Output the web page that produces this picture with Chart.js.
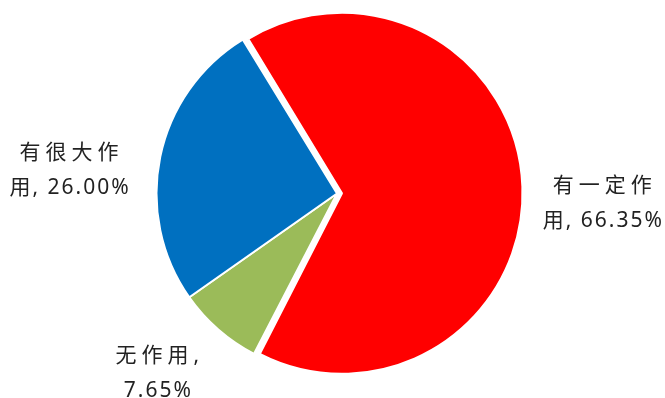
<!DOCTYPE html>
<html>
<head>
<meta charset="utf-8">
<script src="https://cdn.jsdelivr.net/npm/chart.js@4.4.1/dist/chart.umd.min.js"></script>
<style>
  html, body { margin: 0; padding: 0; background: #fff; }
</style>
</head>
<body>
<canvas id="chart" width="665" height="398"></canvas>
<script>
const categories = ['有一定作用', '无作用', '有很大作用'];
const shares = [66.35, 7.65, 26.00];
const colors = ['#FF0000', '#9BBB59', '#0070C0'];

// label text as Excel wraps it: first 4 characters, then the rest
const labelLines = categories.map((name, i) => {
	const text = name + ', ' + shares[i].toFixed(2) + '%';
	return [text.slice(0, 4), text.slice(4).trim()];
});

const explode = 20; // Chart.js moves the arc by offset / 4
const labelNudge = [[-3, 20], [-3, -22], [-5, 31]];

const pieLabels = {
	id: 'pieLabels',
	afterDatasetsUpdate(chart) {
		// an exploded arc also grows by offset / 4, keep it the same size as the others
		const arc = chart.getDatasetMeta(0).data[0];
		arc.outerRadius -= explode / 4;
	},
	afterDatasetsDraw(chart) {
		const meta = chart.getDatasetMeta(0);
		const R = meta.controller.outerRadius;
		const ctx = chart.ctx;
		ctx.save();
		ctx.font = '21px "Noto Sans", "Noto Sans CJK SC", sans-serif';
		ctx.fillStyle = '#222222';
		ctx.textAlign = 'center';
		ctx.textBaseline = 'middle';
		meta.data.forEach((arc, i) => {
			const mid = (arc.startAngle + arc.endAngle) / 2;
			const x = arc.x + Math.cos(mid) * (R + 88) + labelNudge[i][0];
			const y = arc.y + Math.sin(mid) * (R + 88) + labelNudge[i][1];
			ctx.letterSpacing = '5px';
			ctx.fillText(labelLines[i][0], x + 2.5, y - 17.5);
			ctx.letterSpacing = '2px';
			ctx.fillText(labelLines[i][1], x + 1, y + 17.5);
		});
		ctx.restore();
	}
};

let ctx = document.getElementById('chart').getContext('2d');
let pieChart = new Chart(ctx, {
	type: 'pie',
	data: {
		labels: categories,
		datasets: [
			{
				data: shares,
				backgroundColor: colors,
				borderColor: '#ffffff',
				borderWidth: 2,
				hoverBorderWidth: 2,
				offset: [explode, 0, 0],
				hoverOffset: 0,
			},
		],
	},
	options: {
		responsive: false,
		animation: false,
		events: [],
		rotation: -31.5,
		layout: {
			padding: { top: 2, bottom: 13, left: 137, right: 128 },
		},
		plugins: {
			legend: { display: false },
			tooltip: { enabled: false },
		},
	},
	plugins: [pieLabels],
});
</script>
</body>
</html>
